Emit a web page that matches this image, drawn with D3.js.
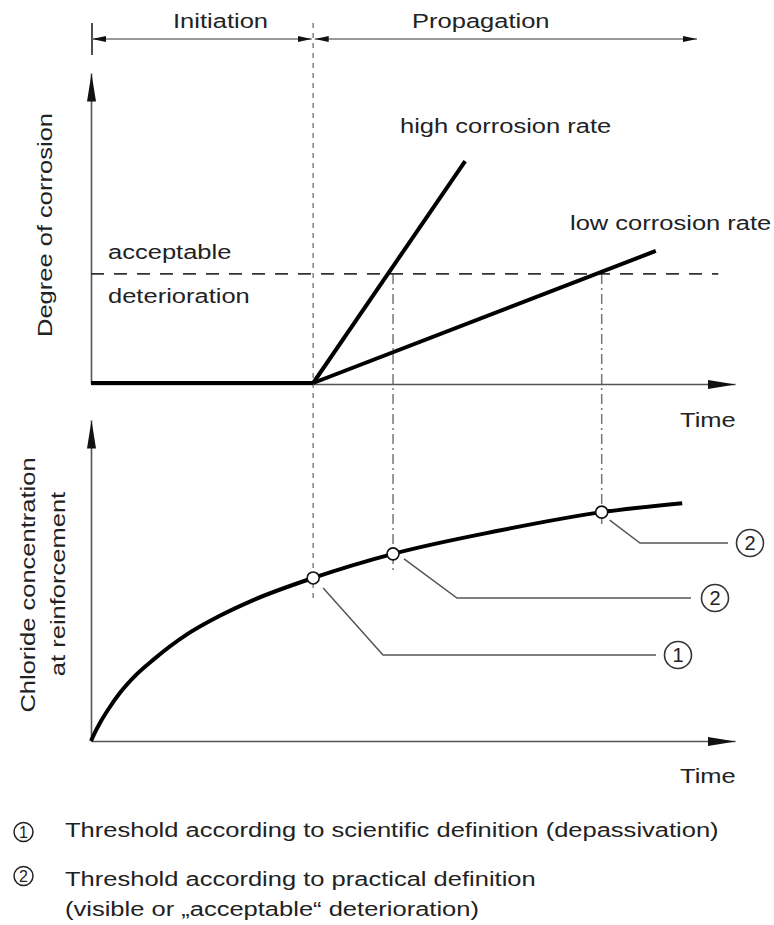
<!DOCTYPE html>
<html><head><meta charset="utf-8">
<script src="https://cdn.jsdelivr.net/npm/d3@7"></script>
<style>
html,body{margin:0;padding:0;background:#fff;}
svg text{font-family:"Liberation Sans",Arial,Helvetica,sans-serif;fill:#222;}
</style></head>
<body>
<svg id="chart" width="774" height="925"></svg>
<script>
// ---------------- data ----------------
const phases = ["Initiation", "Propagation"];
const phaseBounds = [0, 34.5, 94.1];          // time units
const initiationEnd = 34.5;
const degreeInitiation = [[0, 0], [34.5, 0]];
const highRate = [[34.5, 0], [58.1, 71.6]];
const lowRate = [[34.5, 0], [87.7, 42.6]];
const rateLabels = ["high corrosion rate", "low corrosion rate"];
const acceptableLevel = 35.2;
const acceptableEnd = 97.4;
const chlorideTime = [0, 0.6, 1.5, 2.8, 4.5, 7, 9.6, 14.9, 20, 25.2, 34.5, 46.9, 63, 79.3, 91.8];
const chlorideValue = [0, 2.6, 6, 10.2, 15, 20.6, 25.2, 33.2, 39, 43.9, 50.8, 58.3, 65.4, 71.3, 74.1];
const thresholdTime = [34.5, 46.9, 79.3];
const thresholdValue = [50.8, 58.3, 71.3];
const thresholdLabel = ["1", "2", "2"];
const legendItems = [
  {num: "1", lines: ["Threshold according to scientific definition (depassivation)"]},
  {num: "2", lines: ["Threshold according to practical definition", "(visible or \u201Eacceptable\u201C deterioration)"]}
];

// ---------------- layout ----------------
const SX = 1.215, FS = 21;
const svg = d3.select("#chart");
const x = d3.scaleLinear().domain([0, 100]).range([91, 735]);
const yTop = d3.scaleLinear().domain([0, 100]).range([383, 73]);
const yBot = d3.scaleLinear().domain([0, 100]).range([741, 420]);

const defs = svg.append("defs");
function marker(id, len, wid, color) {
  defs.append("marker").attr("id", id)
    .attr("markerUnits", "userSpaceOnUse")
    .attr("viewBox", `0 0 ${len} ${wid}`)
    .attr("markerWidth", len).attr("markerHeight", wid)
    .attr("refX", len).attr("refY", wid / 2)
    .attr("orient", "auto-start-reverse")
    .append("path").attr("d", `M0,0L${len},${wid/2}L0,${wid}Z`).attr("fill", color);
}
marker("axisArrow", 28, 9, "#111");
marker("hdrArrow", 14, 6, "#111");

function txt(s, tx, ty, opts = {}) {
  const rot = opts.rotate ? ` rotate(${opts.rotate})` : "";
  return svg.append("text")
    .attr("transform", `translate(${tx},${ty})${rot} scale(${SX},1)`)
    .attr("font-size", opts.size || FS)
    .attr("text-anchor", opts.anchor || "start")
    .text(s);
}

// ---------------- header ----------------
svg.append("line").attr("x1", x(phaseBounds[0]) + 1).attr("x2", x(phaseBounds[0]) + 1)
  .attr("y1", 23).attr("y2", 55).attr("stroke", "#222").attr("stroke-width", 1.6);
for (let i = 0; i < phases.length; i++) {
  const a = x(phaseBounds[i]) + (i === 0 ? 1 : 1.5), b = x(phaseBounds[i + 1]) - (i === 0 ? 1.5 : 0);
  svg.append("line").attr("x1", a).attr("x2", b).attr("y1", 39).attr("y2", 39)
    .attr("stroke", "#777").attr("stroke-width", 1.6)
    .attr("marker-start", "url(#hdrArrow)")
    .attr("marker-end", "url(#hdrArrow)");
}
txt(phases[0], 173, 28);
txt(phases[1], 412, 28);

// ---------------- vertical guide lines ----------------
svg.append("line").attr("x1", x(initiationEnd)).attr("x2", x(initiationEnd))
  .attr("y1", 23).attr("y2", yBot(thresholdValue[0]) + 20)
  .attr("stroke", "#888").attr("stroke-width", 1.6).attr("stroke-dasharray", "5,5");
const ddEnds = [19, 13];
[1, 2].forEach((k, j) => {
  svg.append("line").attr("x1", x(thresholdTime[k])).attr("x2", x(thresholdTime[k]))
    .attr("y1", yTop(acceptableLevel)).attr("y2", yBot(thresholdValue[k]) + ddEnds[j])
    .attr("stroke", "#777").attr("stroke-width", 1.5).attr("stroke-dasharray", "10,4,2,4");
});

// ---------------- top panel ----------------
svg.append("g").attr("transform", `translate(0,${yTop(0) + 1})`)
  .call(d3.axisBottom(x).tickValues([]).tickSizeOuter(0))
  .call(g => g.select(".domain").attr("stroke", "#555").attr("stroke-width", 1.6).attr("marker-end", "url(#axisArrow)"));
svg.append("g").attr("transform", `translate(${x(0)},0)`)
  .call(d3.axisLeft(yTop).tickValues([]).tickSizeOuter(0))
  .call(g => g.select(".domain").attr("stroke", "#555").attr("stroke-width", 1.6).attr("marker-end", "url(#axisArrow)"));

svg.append("line").attr("x1", x(0)).attr("x2", x(acceptableEnd))
  .attr("y1", yTop(acceptableLevel)).attr("y2", yTop(acceptableLevel))
  .attr("stroke", "#333").attr("stroke-width", 1.8).attr("stroke-dasharray", "13,10");

const lineTop = d3.line().x(d => x(d[0])).y(d => yTop(d[1]));
[degreeInitiation, highRate, lowRate].forEach(s => {
  svg.append("path").attr("d", lineTop(s)).attr("fill", "none")
    .attr("stroke", "#000").attr("stroke-width", 4).attr("stroke-linecap", "butt");
});

txt("Degree of corrosion", 52, 225, {rotate: -90, anchor: "middle"});
txt("acceptable", 108, 259);
txt("deterioration", 108, 303);
txt(rateLabels[0], 400, 133);
txt(rateLabels[1], 570, 230);
txt("Time", 680, 427);

// ---------------- bottom panel ----------------
svg.append("g").attr("transform", `translate(0,${yBot(0)})`)
  .call(d3.axisBottom(x).tickValues([]).tickSizeOuter(0))
  .call(g => g.select(".domain").attr("stroke", "#555").attr("stroke-width", 1.6).attr("marker-end", "url(#axisArrow)"));
svg.append("g").attr("transform", `translate(${x(0)},0)`)
  .call(d3.axisLeft(yBot).tickValues([]).tickSizeOuter(0))
  .call(g => g.select(".domain").attr("stroke", "#555").attr("stroke-width", 1.6).attr("marker-end", "url(#axisArrow)"));

const chloride = chlorideTime.map((t, i) => [t, chlorideValue[i]]);
svg.append("path")
  .attr("d", d3.line().x(d => x(d[0])).y(d => yBot(d[1])).curve(d3.curveMonotoneX)(chloride))
  .attr("fill", "none").attr("stroke", "#000").attr("stroke-width", 4);

// leader lines (annotation layout)
const leaders = [
  {start: [10, 10], elbow: [383, 655], end: [656, 655], label: [678, 655]},
  {start: [11, 5], elbow: [457, 598], end: [691, 598], label: [715, 598]},
  {start: [8, 8], elbow: [640, 543], end: [728, 543], label: [750, 543]}
];
thresholdTime.forEach((t, i) => {
  const cx = x(t), cy = yBot(thresholdValue[i]), L = leaders[i];
  svg.append("path")
    .attr("d", `M${cx + L.start[0]},${cy + L.start[1]}L${L.elbow[0]},${L.elbow[1]}L${L.end[0]},${L.end[1]}`)
    .attr("fill", "none").attr("stroke", "#555").attr("stroke-width", 1.5);
  svg.append("circle").attr("cx", L.label[0]).attr("cy", L.label[1]).attr("r", 13.5)
    .attr("fill", "#fff").attr("stroke", "#333").attr("stroke-width", 1.6);
  svg.append("text").attr("x", L.label[0]).attr("y", L.label[1] + 7)
    .attr("text-anchor", "middle").attr("font-size", 20).text(thresholdLabel[i]);
});
thresholdTime.forEach((t, i) => {
  svg.append("circle").attr("cx", x(t)).attr("cy", yBot(thresholdValue[i])).attr("r", 6)
    .attr("fill", "#fff").attr("stroke", "#111").attr("stroke-width", 1.6);
});

txt("Chloride concentration", 35, 585, {rotate: -90, anchor: "middle"});
txt("at reinforcement", 65, 584, {rotate: -90, anchor: "middle"});
txt("Time", 680, 783);

// ---------------- legend ----------------
const legendRows = [[832, 837], [876, 886]];
legendItems.forEach((item, i) => {
  const [cy, by] = legendRows[i];
  svg.append("circle").attr("cx", 23.5).attr("cy", cy).attr("r", 9.5)
    .attr("fill", "#fff").attr("stroke", "#222").attr("stroke-width", 1.5);
  svg.append("text").attr("x", 23.5).attr("y", cy + 6).attr("text-anchor", "middle")
    .attr("font-size", 16).text(item.num);
  item.lines.forEach((s, j) => txt(s, 65, by + j * 30));
});
</script>
</body></html>
